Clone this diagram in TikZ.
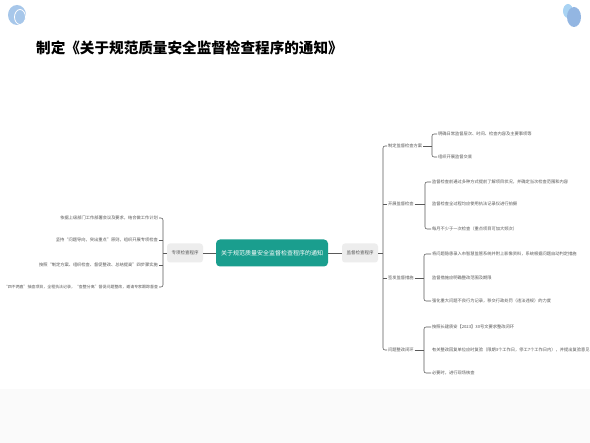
\documentclass[tikz,border=0pt]{standalone}
\usepackage{fontspec}
\setmainfont{Noto Sans CJK SC}
\definecolor{teal1}{HTML}{1A9E8E}
\definecolor{linec}{HTML}{5A5A5A}
\definecolor{leafc}{HTML}{555555}
\definecolor{boxc}{HTML}{EDEDED}
\definecolor{lblue}{HTML}{A9D3F3}
\definecolor{dblue}{HTML}{93B6E2}
\definecolor{cblue}{HTML}{A7C7EA}
\tikzset{
  leaf/.style={inner sep=0.8pt, text=leafc, font=\fontsize{4.25}{5}\selectfont},
  leafl/.style={leaf, anchor=east},
  leafr/.style={leaf, anchor=west},
  mid/.style={leaf, anchor=west, text=leafc},
  sidebox/.style={fill=boxc, rounded corners=3pt, minimum width=36pt, minimum height=19pt, inner sep=1pt, text=leafc, font=\fontsize{4.5}{5}\selectfont},
  centerbox/.style={fill=teal1, rounded corners=4pt, minimum width=112pt, minimum height=27pt, inner sep=2pt, text=white, font=\fontsize{6}{7}\selectfont},
  conn/.style={draw=linec, line width=0.55pt},
  brk/.style={conn, rounded corners=2pt},
}
\begin{document}
\begin{tikzpicture}[x=1pt,y=-1pt]
\useasboundingbox (0,0) rectangle (590,443);
\fill[white] (0,0) rectangle (590,443);
\fill[black!2] (0,389) rectangle (590,443);
% decorations
\fill[cblue] (17,15) ellipse [x radius=9, y radius=10];
\draw[white, line width=0.8pt] (20,17) ellipse [x radius=5.5, y radius=7.5];
\fill[lblue] (568,11) ellipse [x radius=5, y radius=7];
\fill[dblue] (574,17) ellipse [x radius=7, y radius=10];
% title
\node[anchor=west, inner sep=0, font=\fontsize{14.6}{16}\selectfont\bfseries] (title) at (36,48) {制定《关于规范质量安全监督检查程序的通知》};
% central
\node[centerbox] (c) at (272,253) {关于规范质量安全监督检查程序的通知};
\node[sidebox] (L) at (185,253) {专项检查程序};
\node[sidebox] (R) at (360,253) {监督检查程序};
\draw[conn] (L.east) -- (c.west);
\draw[conn] (c.east) -- (R.west);
% left leaves
\node[leafl] (l1) at (159,218) {依据上级部门工作部署会议及要求，结合做工作计划};
\node[leafl] (l2) at (159,240) {坚持“问题导向，突出重点”原则，组织开展专项检查};
\node[leafl] (l3) at (159,265) {按照“制定方案、组织检查、督促整改、总结提高”四步骤实施};
\node[leafl, font=\fontsize{3.95}{5}\selectfont] (l4) at (159,287) {“四不两直”抽查项目，全程执法记录，“查整分离”督促问题整改，邀请专家跟踪督查};
\coordinate (lb) at (163,253);
\draw[conn] (L.west) -- (lb);
\draw[brk] (l1.east) -- (lb |- l1.east) -- (lb |- l4.east) -- (l4.east);
\draw[conn] (l2.east) -- (lb |- l2.east);
\draw[conn] (l3.east) -- (lb |- l3.east);
% right level 1
\node[mid] (r1) at (387,146) {制定监督检查方案};
\node[mid] (r2) at (387,204) {开展监督检查};
\node[mid] (r3) at (387,278) {签发监督措施};
\node[mid] (r4) at (387,350) {问题整改闭环};
\coordinate (rb) at (383,253);
\draw[conn] (R.east) -- (rb);
\draw[brk] (r1.west) -- (rb |- r1.west) -- (rb |- r4.west) -- (r4.west);
\draw[conn] (r2.west) -- (rb |- r2.west);
\draw[conn] (r3.west) -- (rb |- r3.west);
% r1 leaves
\node[leafr] (a1) at (437,134) {明确日常监督层次、时间、检查内容及主要事项等};
\node[leafr] (a2) at (437,157) {组织开展监督交底};
\coordinate (ab) at (432,146);
\draw[conn] (r1.east) -- (ab);
\draw[brk] (a1.west) -- (ab |- a1.west) -- (ab |- a2.west) -- (a2.west);
% r2 leaves
\node[leafr] (b1) at (431,182) {监督检查前通过多种方式提前了解项目状况，并确定当次检查范围和内容};
\node[leafr] (b2) at (431,204) {监督检查全过程均应使用执法记录仪进行拍摄};
\node[leafr] (b3) at (431,229) {每月不少于一次检查（重点项目可加大频次）};
\coordinate (bb) at (425,204);
\draw[conn] (r2.east) -- (bb);
\draw[brk] (b1.west) -- (bb |- b1.west) -- (bb |- b3.west) -- (b3.west);
% r3 leaves
\node[leafr] (d1) at (431,254) {将问题隐患录入市智慧监管系统并附上影像资料，系统根据问题自动判定措施};
\node[leafr] (d2) at (431,278) {监督措施应明确整改范围及期限};
\node[leafr] (d3) at (431,301) {强化重大问题不良行为记录，移交行政处罚（违法违规）的力度};
\coordinate (db) at (424,278);
\draw[conn] (r3.east) -- (db);
\draw[brk] (d1.west) -- (db |- d1.west) -- (db |- d3.west) -- (d3.west);
% r4 leaves
\node[leafr] (e1) at (431,327) {按照长建质安【2023】30号文要求整改闭环};
\node[leafr] (e2) at (431,350) {有关整改回复单位应时复验（限期3个工作日，停工7个工作日内），并提出复验意见};
\node[leafr] (e3) at (431,373) {必要时，进行现场核查};
\coordinate (eb) at (424,350);
\draw[conn] (r4.east) -- (eb);
\draw[brk] (e1.west) -- (eb |- e1.west) -- (eb |- e3.west) -- (e3.west);
\end{tikzpicture}
\end{document}
